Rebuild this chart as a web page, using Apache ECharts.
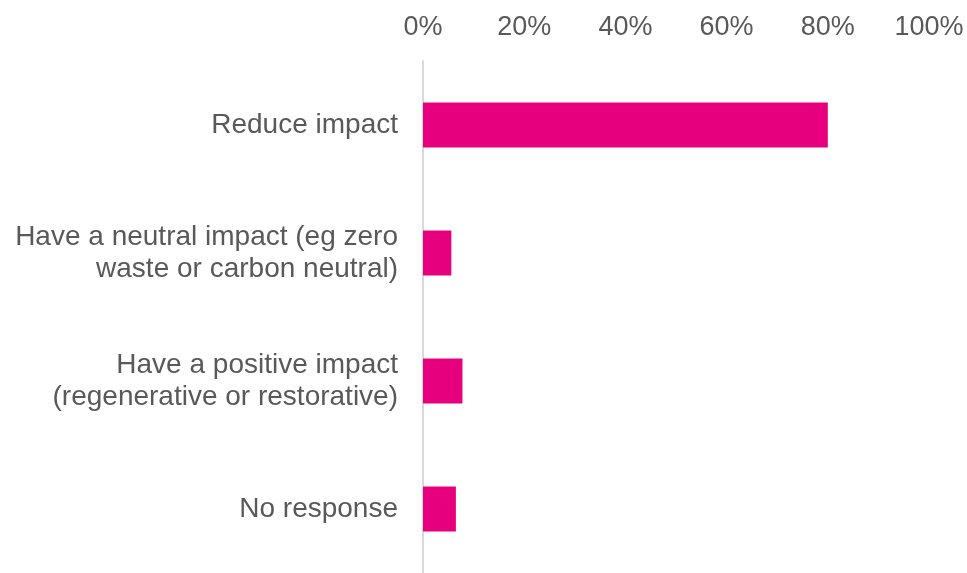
<!DOCTYPE html>
<html>
<head>
<meta charset="utf-8">
<title>Impact ambition</title>
<script src="https://cdn.jsdelivr.net/npm/echarts@6/dist/echarts.min.js"></script>
<style>
  html, body { margin: 0; padding: 0; background: #ffffff; }
  #chart { width: 967px; height: 573px; }
</style>
</head>
<body>
<div id="chart"></div>
<script>
// Response options, top to bottom
const categories = [
  'Reduce impact',
  'Have a neutral impact (eg zero\nwaste or carbon neutral)',
  'Have a positive impact\n(regenerative or restorative)',
  'No response'
];
// Share of respondents, percent
const shares = [80, 5.6, 7.8, 6.5];
// Percentage ticks along the top axis
const tickMin = 0;
const tickMax = 100;
const tickStep = 20;

const textColor = '#595959';
const fontFamily = 'Liberation Sans, Arial, sans-serif';

const chart = echarts.init(document.getElementById('chart'));
chart.setOption({
  backgroundColor: '#ffffff',
  animation: false,
  grid: { left: 423, right: 38, top: 61, bottom: 0, containLabel: false },
  xAxis: {
    type: 'value',
    position: 'top',
    min: tickMin,
    max: tickMax,
    interval: tickStep,
    axisLine: { show: false },
    axisTick: { show: false },
    splitLine: { show: false },
    axisLabel: {
      formatter: '{value}%',
      color: textColor,
      fontSize: 27,
      fontFamily: fontFamily,
      margin: 20
    }
  },
  yAxis: {
    type: 'category',
    data: categories,
    inverse: true,
    axisLine: { show: true, lineStyle: { color: '#d9d9d9', width: 2 } },
    axisTick: { show: false },
    splitLine: { show: false },
    axisLabel: {
      color: textColor,
      fontSize: 28,
      fontFamily: fontFamily,
      lineHeight: 32,
      margin: 25,
      align: 'right',
      padding: [4, 0, 0, 0]
    }
  },
  series: [{
    type: 'bar',
    data: shares,
    barWidth: '35%',
    itemStyle: { color: '#e6007e' },
    silent: true
  }]
});
</script>
</body>
</html>
